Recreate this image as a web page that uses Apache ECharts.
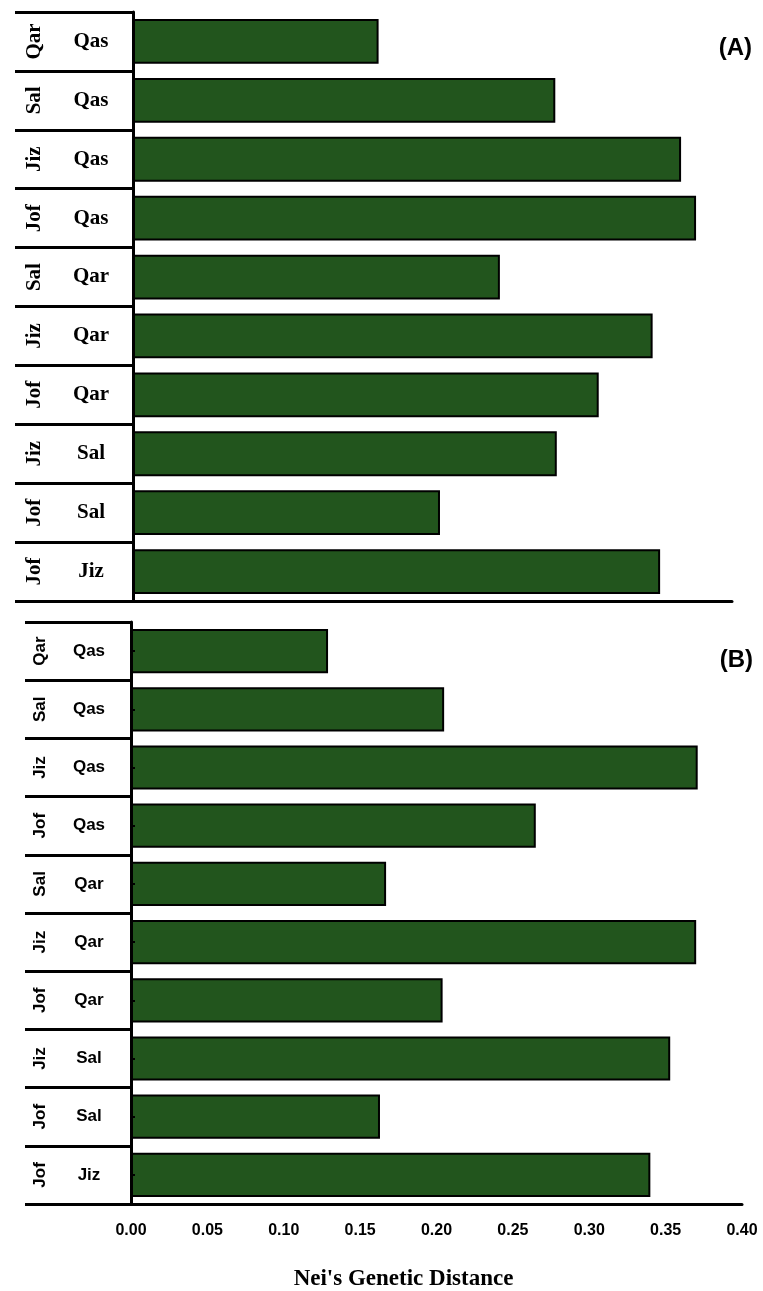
<!DOCTYPE html>
<html>
<head>
<meta charset="utf-8">
<script src="https://cdn.jsdelivr.net/npm/echarts@6/dist/echarts.min.js"></script>
<style>
  html, body { margin: 0; padding: 0; background: #fff; }
  #chart { width: 763px; height: 1291px; }
</style>
</head>
<body>
<div id="chart"></div>
<script>
// population pairs, top to bottom
const outerPop = ['Qar', 'Sal', 'Jiz', 'Jof', 'Sal', 'Jiz', 'Jof', 'Jiz', 'Jof', 'Jof'];
const innerPop = ['Qas', 'Qas', 'Qas', 'Qas', 'Qar', 'Qar', 'Qar', 'Sal', 'Sal', 'Jiz'];
const pairs = outerPop.map((p, i) => p + '-' + innerPop[i]);

// Nei's genetic distance
const distA = [0.164, 0.282, 0.366, 0.376, 0.245, 0.347, 0.311, 0.283, 0.205, 0.352];
const distB = [0.129, 0.205, 0.371, 0.265, 0.167, 0.370, 0.204, 0.353, 0.163, 0.340];

const xTicks = [0, 0.05, 0.1, 0.15, 0.2, 0.25, 0.3, 0.35, 0.4];

const barColor = '#22551d';
const serif = 'Liberation Serif';
const sans = 'Liberation Sans';

const chart = echarts.init(document.getElementById('chart'));

const mainY = (grid, tickLen, font, size) => ({
  type: 'category',
  gridIndex: grid,
  position: 'left',
  data: pairs,
  inverse: true,
  axisLine: { lineStyle: { color: '#000', width: 3 } },
  axisTick: { show: true, length: tickLen, lineStyle: { color: '#000', width: 3 } },
  axisLabel: {
    align: 'center',
    margin: 42,
    fontFamily: font,
    fontWeight: 'bold',
    fontSize: size,
    color: '#000',
    formatter: (v) => v.split('-')[1],
  },
});

const outerY = (grid, margin, font, size, centerTicks) => ({
  type: 'category',
  gridIndex: grid,
  position: 'left',
  offset: 0,
  z: 5,
  data: pairs,
  inverse: true,
  axisLine: { show: false },
  axisTick: {
    show: centerTicks,
    alignWithLabel: true,
    inside: true,
    length: 4,
    lineStyle: { color: '#000', width: 2 },
  },
  axisLabel: {
    rotate: 90,
    margin: margin,
    fontFamily: font,
    fontWeight: 'bold',
    fontSize: size,
    color: '#000',
    formatter: (v) => v.split('-')[0],
  },
});

const option = {
  animation: false,
  backgroundColor: '#fff',
  grid: [
    { left: 133, right: 31, top: 12, height: 589, outerBoundsMode: 'none' },
    { left: 131, right: 21, top: 622, height: 582, outerBoundsMode: 'none' },
  ],
  title: [
    {
      text: '(A)', right: 6, top: 31,
      textStyle: { fontFamily: sans, fontWeight: 'bold', fontSize: 24, color: '#000' },
    },
    {
      text: '(B)', right: 5, top: 643,
      textStyle: { fontFamily: sans, fontWeight: 'bold', fontSize: 24, color: '#000' },
    },
  ],
  xAxis: [
    {
      type: 'value',
      gridIndex: 0,
      min: 0,
      max: 0.4,
      axisLine: { show: true, lineStyle: { color: '#000', width: 3 } },
      axisTick: { show: false },
      axisLabel: { show: false },
      splitLine: { show: false },
    },
    {
      type: 'value',
      gridIndex: 1,
      min: 0,
      max: 0.4,
      interval: 0.05,
      axisLine: { show: true, lineStyle: { color: '#000', width: 3 } },
      axisTick: { show: false },
      splitLine: { show: false },
      axisLabel: {
        margin: 19,
        fontFamily: sans,
        fontWeight: 'bold',
        fontSize: 16,
        color: '#000',
        formatter: (v) => (xTicks.some((t) => Math.abs(t - v) < 1e-9) ? v.toFixed(2) : ''),
      },
      name: "Nei's Genetic Distance",
      nameLocation: 'middle',
      nameGap: 64,
      nameTextStyle: {
        fontFamily: serif,
        fontWeight: 'bold',
        fontSize: 23,
        color: '#000',
        padding: [0, 66, 0, 0],
      },
    },
  ],
  yAxis: [
    mainY(0, 118, serif, 21),
    outerY(0, 88, serif, 21, false),
    mainY(1, 106, sans, 17),
    outerY(1, 82, sans, 17, true),
  ],
  series: [
    {
      type: 'bar',
      xAxisIndex: 0,
      yAxisIndex: 0,
      data: distA,
      barCategoryGap: '24%',
      itemStyle: { color: barColor, borderColor: '#000', borderWidth: 2 },
    },
    {
      type: 'bar',
      xAxisIndex: 1,
      yAxisIndex: 2,
      data: distB,
      barCategoryGap: '24%',
      itemStyle: { color: barColor, borderColor: '#000', borderWidth: 2 },
    },
  ],
};

chart.setOption(option);
</script>
</body>
</html>
